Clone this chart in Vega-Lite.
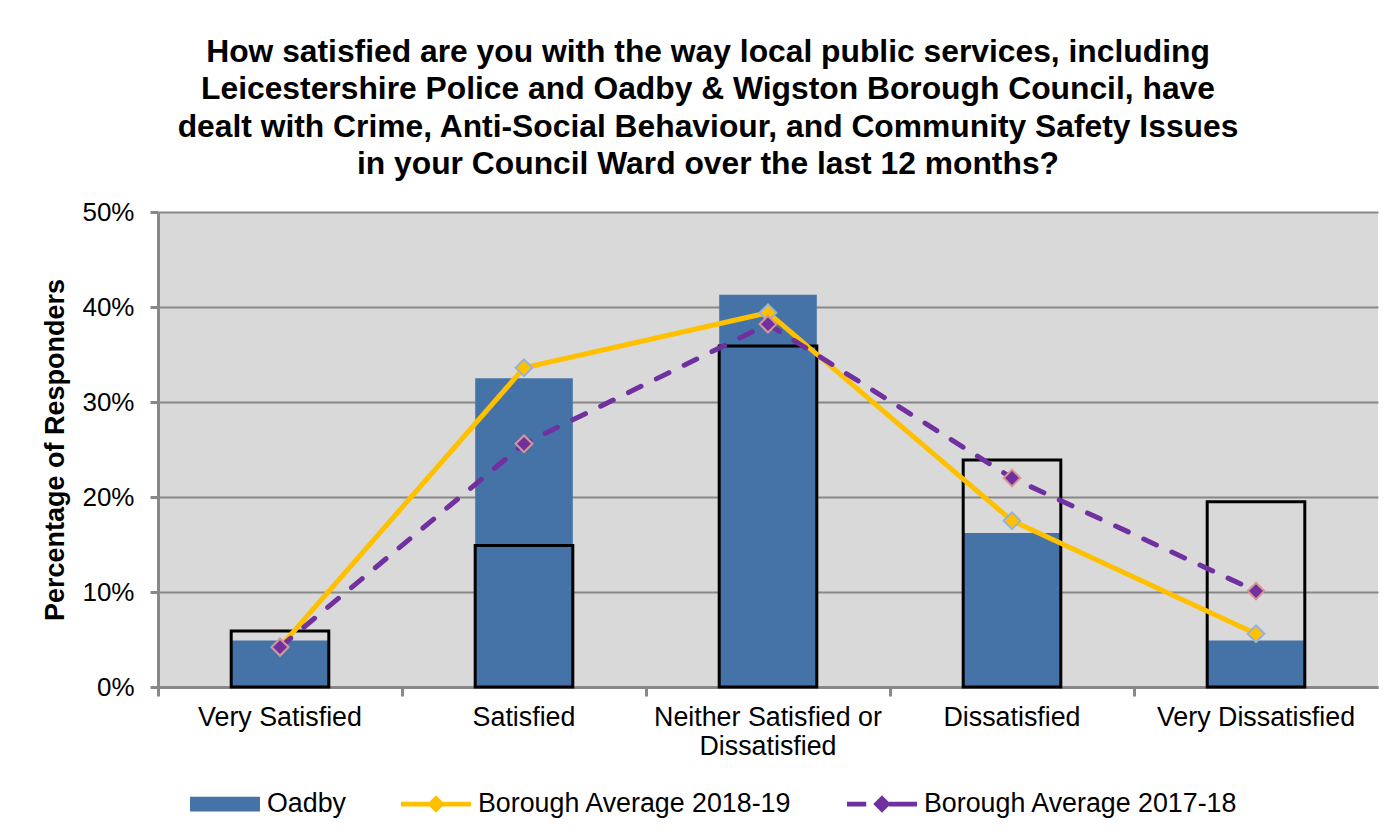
{
  "$schema": "https://vega.github.io/schema/vega-lite/v6.json",
  "autosize": {"type": "none"},
  "padding": {"left": 158, "top": 212, "right": 19, "bottom": 149},
  "width": 1220,
  "height": 475,
  "background": "white",
  "config": {
    "font": "Liberation Sans",
    "view": {"fill": "#D9D9D9", "stroke": null}
  },
  "title": {
    "text": [
      "How satisfied are you with the way local public services, including",
      "Leicestershire Police and Oadby & Wigston Borough Council, have",
      "dealt with Crime, Anti-Social Behaviour, and Community Safety Issues",
      "in your Council Ward over the last 12 months?"
    ],
    "font": "Liberation Sans",
    "fontSize": 31.8,
    "fontWeight": "bold",
    "color": "#000000",
    "lineHeight": 37.5,
    "anchor": "middle",
    "frame": "group",
    "dx": -60,
    "offset": 18
  },
  "data": {
    "values": [
      {"category": "Very Satisfied", "series": "Oadby", "value": 0.049},
      {"category": "Satisfied", "series": "Oadby", "value": 0.325},
      {"category": "Neither Satisfied or Dissatisfied", "series": "Oadby", "value": 0.413},
      {"category": "Dissatisfied", "series": "Oadby", "value": 0.162},
      {"category": "Very Dissatisfied", "series": "Oadby", "value": 0.049},
      {"category": "Very Satisfied", "series": "Oadby (outline)", "value": 0.059},
      {"category": "Satisfied", "series": "Oadby (outline)", "value": 0.149},
      {"category": "Neither Satisfied or Dissatisfied", "series": "Oadby (outline)", "value": 0.359},
      {"category": "Dissatisfied", "series": "Oadby (outline)", "value": 0.239},
      {"category": "Very Dissatisfied", "series": "Oadby (outline)", "value": 0.195},
      {"category": "Very Satisfied", "series": "Borough Average 2018-19", "value": 0.042},
      {"category": "Satisfied", "series": "Borough Average 2018-19", "value": 0.336},
      {"category": "Neither Satisfied or Dissatisfied", "series": "Borough Average 2018-19", "value": 0.394},
      {"category": "Dissatisfied", "series": "Borough Average 2018-19", "value": 0.175},
      {"category": "Very Dissatisfied", "series": "Borough Average 2018-19", "value": 0.056},
      {"category": "Very Satisfied", "series": "Borough Average 2017-18", "value": 0.042},
      {"category": "Satisfied", "series": "Borough Average 2017-18", "value": 0.256},
      {"category": "Neither Satisfied or Dissatisfied", "series": "Borough Average 2017-18", "value": 0.382},
      {"category": "Dissatisfied", "series": "Borough Average 2017-18", "value": 0.220},
      {"category": "Very Dissatisfied", "series": "Borough Average 2017-18", "value": 0.101}
    ]
  },
  "encoding": {
    "x": {
      "field": "category",
      "type": "nominal",
      "sort": ["Very Satisfied", "Satisfied", "Neither Satisfied or Dissatisfied", "Dissatisfied", "Very Dissatisfied"],
      "scale": {"paddingInner": 0, "paddingOuter": 0},
      "axis": {
        "title": null,
        "labelAngle": 0,
        "labelFont": "Liberation Sans",
        "labelFontSize": 26.8,
        "labelColor": "#000000",
        "labelPadding": 8,
        "labelLineHeight": 29,
        "labelLimit": 400,
        "labelExpr": "datum.label == 'Neither Satisfied or Dissatisfied' ? ['Neither Satisfied or', 'Dissatisfied'] : datum.label",
        "bandPosition": 0,
        "tickSize": 9,
        "tickWidth": 3,
        "tickColor": "#888888",
        "domainColor": "#888888",
        "domainWidth": 3,
        "grid": false
      }
    },
    "y": {
      "field": "value",
      "type": "quantitative",
      "scale": {"domain": [0, 0.5], "nice": false},
      "axis": {
        "title": "Percentage of Responders",
        "titleFont": "Liberation Sans",
        "titleFontSize": 27,
        "titleFontWeight": "bold",
        "titleColor": "#000000",
        "titlePadding": 12,
        "values": [0, 0.1, 0.2, 0.3, 0.4, 0.5],
        "format": ".0%",
        "labelFont": "Liberation Sans",
        "labelFontSize": 26,
        "labelColor": "#000000",
        "labelPadding": 16,
        "tickSize": 8,
        "tickWidth": 3,
        "tickColor": "#888888",
        "domainColor": "#888888",
        "domainWidth": 3,
        "grid": true,
        "gridColor": "#888888",
        "gridWidth": 2
      }
    }
  },
  "layer": [
    {
      "transform": [{"filter": "datum.series == 'Oadby'"}],
      "mark": {"type": "bar", "width": {"band": 0.4}},
      "encoding": {
        "color": {
          "field": "series",
          "type": "nominal",
          "scale": {
            "domain": ["Oadby", "Borough Average 2018-19", "Borough Average 2017-18"],
            "range": ["#4573A7", "#FFC000", "#7030A0"]
          },
          "legend": {
            "title": null,
            "orient": "none",
            "direction": "horizontal",
            "legendX": 32,
            "legendY": 557,
            "columnPadding": 55,
            "labelFont": "Liberation Sans",
            "labelFontSize": 26.8,
            "labelColor": "#000000",
            "labelOffset": 7,
            "labelLimit": 500,
            "symbolSize": 4900,
            "encode": {
              "symbols": {
                "update": {
                  "shape": {"signal": "datum.value == 'Oadby' ? 'M-1,-0.21H1V0.21H-1Z' : datum.value == 'Borough Average 2018-19' ? 'M-1,-0.07H1V0.07H-1Z M0,-0.25L0.25,0L0,0.25L-0.25,0Z' : 'M-1,-0.07H-0.45V0.07H-1Z M0.2,-0.07H1V0.07H0.2Z M0,-0.25L0.25,0L0,0.25L-0.25,0Z'"},
                  "fill": {"signal": "scale('color', datum.value)"},
                  "stroke": {"value": "transparent"},
                  "strokeWidth": {"value": 0},
                  "strokeDash": {"value": []},
                  "opacity": {"value": 1}
                }
              }
            }
          }
        }
      }
    },
    {
      "transform": [{"filter": "datum.series == 'Oadby (outline)'"}],
      "mark": {"type": "bar", "width": {"band": 0.4}, "fill": null, "fillOpacity": 0, "stroke": "#000000", "strokeWidth": 3}
    },
    {
      "transform": [{"filter": "datum.series == 'Borough Average 2018-19'"}],
      "mark": {"type": "line", "strokeWidth": 5},
      "encoding": {"color": {"field": "series", "type": "nominal"}}
    },
    {
      "transform": [{"filter": "datum.series == 'Borough Average 2018-19'"}],
      "mark": {"type": "point", "shape": "diamond", "filled": true, "size": 280, "stroke": "#95B3D7", "strokeWidth": 2, "opacity": 1},
      "encoding": {"color": {"field": "series", "type": "nominal"}}
    },
    {
      "transform": [{"filter": "datum.series == 'Borough Average 2017-18'"}],
      "mark": {"type": "line", "strokeWidth": 5, "strokeDash": [14, 17], "strokeCap": "round"},
      "encoding": {"color": {"field": "series", "type": "nominal"}}
    },
    {
      "transform": [{"filter": "datum.series == 'Borough Average 2017-18'"}],
      "mark": {"type": "point", "shape": "diamond", "filled": true, "size": 280, "stroke": "#D99694", "strokeWidth": 2, "opacity": 1},
      "encoding": {"color": {"field": "series", "type": "nominal"}}
    }
  ]
}
